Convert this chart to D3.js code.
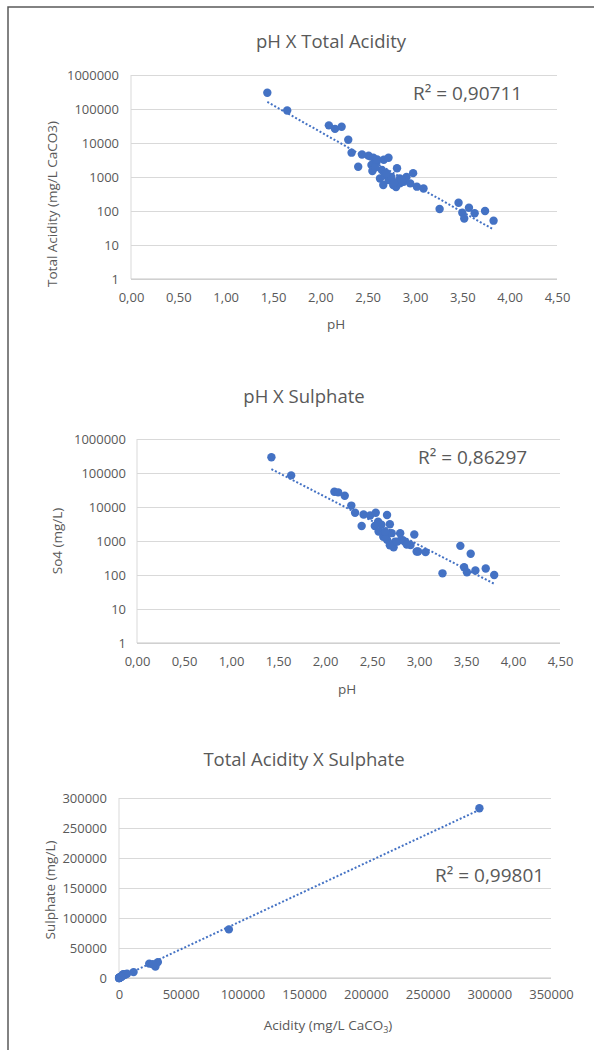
<!DOCTYPE html>
<html>
<head>
<meta charset="utf-8">
<script src="https://cdn.jsdelivr.net/npm/d3@7"></script>
<style>
  body { margin: 0; background: #fff; }
  svg { display: block; font-family: "Open Sans", sans-serif; }
</style>
</head>
<body>
<script>
// ---- data ----
// chart 1 : pH vs total acidity
var phAcidity = [1.44, 1.65, 2.09, 2.155, 2.225, 2.295, 2.33, 2.40, 2.44, 2.51, 2.54, 2.56, 2.595, 2.55, 2.63, 2.65,
                 2.665, 2.68, 2.67, 2.72, 2.72, 2.75, 2.77, 2.80, 2.81, 2.84, 2.84, 2.88, 2.91, 2.95, 2.98, 3.02,
                 3.09, 3.26, 3.46, 3.50, 3.52, 3.57, 3.63, 3.74, 3.83, 2.60, 2.70, 2.78, 2.86, 2.58];
var totalAcidity = [300000, 90000, 33000, 26000, 30000, 12500, 5200, 2000, 4600, 4200, 2250, 3700, 2800, 1500, 900, 1600,
                    580, 1150, 3200, 3700, 820, 1000, 580, 510, 1800, 910, 650, 720, 1000, 650, 1300, 520,
                    460, 115, 175, 89, 60, 125, 86, 100, 52, 3300, 1300, 700, 800, 1900];

// chart 2 : pH vs sulphate
var phSulphate = [1.43, 1.64, 2.10, 2.14, 2.21, 2.28, 2.32, 2.39, 2.41, 2.48, 2.54, 2.66, 2.53, 2.60, 2.69, 2.565,
                  2.62, 2.66, 2.73, 2.80, 2.81, 2.77, 2.86, 2.95, 2.91, 2.99, 3.07, 3.25, 3.44, 3.55, 3.48, 3.51,
                  3.60, 3.71, 3.80, 2.57, 2.65, 2.71, 2.745, 2.69, 2.84, 2.87, 2.975, 2.64];
var sulphate = [290000, 85000, 28000, 27000, 21500, 11000, 6800, 2750, 6000, 5600, 6800, 5800, 2750, 3000, 3100, 3700,
                1340, 1080, 650, 1700, 1080, 960, 900, 1550, 760, 490, 470, 112, 720, 420, 170, 120,
                135, 155, 100, 1900, 1340, 1700, 950, 750, 1000, 790, 490, 1900];

// chart 3 : total acidity vs sulphate
var acidityX = [292000, 89000, 24500, 29500, 31500, 27500, 11800, 4500, 3700, 5000, 3200, 2800, 1900, 1500, 1300, 1000,
                900, 800, 700, 650, 580, 500, 460, 300, 175, 120, 100, 90, 60, 52, 6500, 2000];
var sulphateY = [283000, 81000, 24000, 19000, 26500, 23000, 9800, 6000, 6500, 5500, 5800, 3100, 2700, 2000, 1700, 1300,
                 1000, 950, 800, 750, 680, 500, 470, 420, 170, 135, 155, 110, 120, 100, 7000, 1900];

var phTicks = [0, 0.5, 1, 1.5, 2, 2.5, 3, 3.5, 4, 4.5];
var logTicks = [1, 10, 100, 1000, 10000, 100000, 1000000];
var acidityTicks = [0, 50000, 100000, 150000, 200000, 250000, 300000, 350000];
var sulphateTicks = [0, 50000, 100000, 150000, 200000, 250000, 300000];

var titles = ['pH X Total Acidity', 'pH X Sulphate', 'Total Acidity X Sulphate'];
var rSquared = ['R² = 0,90711', 'R² = 0,86297', 'R² = 0,99801'];

var BLUE = '#4472c4',
    TEXT = '#595959',
    GRID = '#d9d9d9';

var svg = d3.select('body').append('svg')
    .attr('width', 594)
    .attr('height', 1050);

// frame of the scanned page
svg.append('path')
    .attr('d', 'M8,1050V7H594')
    .attr('fill', 'none')
    .attr('stroke', '#595959')
    .attr('stroke-width', 1.5);

function commaFixed(d) {
    return d3.format('.2f')(d).replace('.', ',');
}

function drawChart(c) {
    var g = svg.append('g'),
        w = c.right - c.left,
        xs = c.xs,
        ys = c.ys,
        x = d3.scaleLinear().domain(c.xDomain).range([c.left, c.right]),
        y = (c.log ? d3.scaleLog() : d3.scaleLinear()).domain(c.yDomain).range([c.bottom, c.top]);

    // horizontal gridlines
    g.append('g')
        .attr('transform', 'translate(' + c.left + ',0)')
        .call(d3.axisLeft(y).tickValues(c.yTicks).tickSize(-w).tickFormat(''))
        .call(function(s) {
            s.select('.domain').remove();
            s.selectAll('line').attr('stroke', GRID).attr('stroke-width', 1);
        });

    // axis lines
    g.append('line')
        .attr('x1', c.left).attr('x2', c.left)
        .attr('y1', c.top).attr('y2', c.bottom)
        .attr('stroke', GRID);
    g.append('line')
        .attr('x1', c.left).attr('x2', c.right)
        .attr('y1', c.bottom).attr('y2', c.bottom)
        .attr('stroke', '#c8c8c8').attr('stroke-width', 1.2);

    // tick labels
    g.append('g')
        .attr('transform', 'translate(' + c.left + ',0)')
        .call(d3.axisLeft(y).tickValues(c.yTicks).tickSize(0).tickPadding(c.yPad).tickFormat(d3.format('d')))
        .call(function(s) {
            s.select('.domain').remove();
            s.selectAll('text').attr('fill', TEXT).style('font-size', '13px').style('font-family', '"Open Sans"');
        });
    g.append('g')
        .attr('transform', 'translate(0,' + c.bottom + ')')
        .call(d3.axisBottom(x).tickValues(c.xTicks).tickSize(0).tickPadding(c.xPad).tickFormat(c.xFormat))
        .call(function(s) {
            s.select('.domain').remove();
            s.selectAll('text').attr('fill', TEXT).style('font-size', '13px').style('font-family', '"Open Sans"');
        });

    // trendline: least squares, on log10(y) for the log charts
    var ty = ys.map(function(v) { return c.log ? Math.log10(v) : v; }),
        mx = d3.mean(xs),
        my = d3.mean(ty),
        sxy = d3.sum(xs, function(v, i) { return (v - mx) * (ty[i] - my); }),
        sxx = d3.sum(xs, function(v) { return (v - mx) * (v - mx); }),
        slope = sxy / sxx,
        icpt = my - slope * mx,
        fit = d3.extent(xs).map(function(v) {
            var f = icpt + slope * v;
            return [v, c.log ? Math.pow(10, f) : f];
        });

    g.append('path')
        .datum(fit)
        .attr('d', d3.line().x(function(d) { return x(d[0]); }).y(function(d) { return y(d[1]); }))
        .attr('fill', 'none')
        .attr('stroke', BLUE)
        .attr('stroke-width', 2)
        .attr('stroke-dasharray', '2,2');

    // points
    g.selectAll('circle')
        .data(xs.map(function(v, i) { return [v, ys[i]]; }))
        .join('circle')
        .attr('cx', function(d) { return x(d[0]); })
        .attr('cy', function(d) { return y(d[1]); })
        .attr('r', 4.2)
        .attr('fill', BLUE);

    // texts
    g.append('text')
        .attr('x', c.titleX).attr('y', c.titleY)
        .attr('text-anchor', 'middle')
        .attr('fill', TEXT)
        .style('font-size', '18.5px')
        .text(c.title);

    g.append('text')
        .attr('x', c.rX).attr('y', c.rY)
        .attr('fill', TEXT)
        .style('font-size', '19px')
        .text(c.r2);

    g.append('text')
        .attr('transform', 'translate(' + c.yLabelX + ',' + c.yLabelY + ') rotate(-90)')
        .attr('text-anchor', 'middle')
        .attr('dominant-baseline', 'central')
        .attr('fill', TEXT)
        .style('font-size', '13.5px')
        .text(c.yLabel);

    var xl = g.append('text')
        .attr('x', c.xLabelX).attr('y', c.xLabelY)
        .attr('text-anchor', 'middle')
        .attr('fill', TEXT)
        .style('font-size', '13.5px')
        .text(c.xLabel);
    if (c.xLabelSub) {
        xl.append('tspan').attr('dy', 3).style('font-size', '9px').text(c.xLabelSub);
        xl.append('tspan').attr('dy', -3).text(')');
    }
}

drawChart({
    xs: phAcidity, ys: totalAcidity, log: true,
    xDomain: [0, 4.5], yDomain: [1, 1000000], xTicks: phTicks, yTicks: logTicks, xFormat: commaFixed,
    left: 131, right: 557, top: 75, bottom: 279, yPad: 12, xPad: 14,
    title: titles[0], titleX: 331, titleY: 48,
    r2: rSquared[0], rX: 413, rY: 100,
    yLabel: 'Total Acidity (mg/L CaCO3)', yLabelX: 52, yLabelY: 204,
    xLabel: 'pH', xLabelX: 336, xLabelY: 329
});

drawChart({
    xs: phSulphate, ys: sulphate, log: true,
    xDomain: [0, 4.5], yDomain: [1, 1000000], xTicks: phTicks, yTicks: logTicks, xFormat: commaFixed,
    left: 137, right: 560, top: 439, bottom: 643, yPad: 11, xPad: 14,
    title: titles[1], titleX: 304, titleY: 403,
    r2: rSquared[1], rX: 418, rY: 464,
    yLabel: 'So4 (mg/L)', yLabelX: 57, yLabelY: 541,
    xLabel: 'pH', xLabelX: 347, xLabelY: 694
});

drawChart({
    xs: acidityX, ys: sulphateY, log: false,
    xDomain: [0, 350000], yDomain: [0, 300000], xTicks: acidityTicks, yTicks: sulphateTicks, xFormat: d3.format('d'),
    left: 119, right: 551, top: 798, bottom: 978, yPad: 12, xPad: 12,
    title: titles[2], titleX: 304, titleY: 766,
    r2: rSquared[2], rX: 435, rY: 882,
    yLabel: 'Sulphate  (mg/L)', yLabelX: 50, yLabelY: 890,
    xLabel: 'Acidity (mg/L CaCO', xLabelSub: '3', xLabelX: 328, xLabelY: 1030
});
</script>
</body>
</html>
